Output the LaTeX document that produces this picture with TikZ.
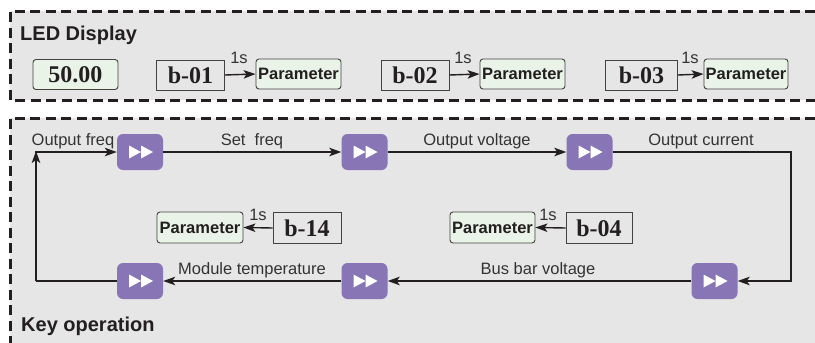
\documentclass[tikz,border=0pt]{standalone}
\usepackage{fontspec}
\setmainfont{Liberation Sans}
\newfontfamily\serifb{Liberation Serif}
\usetikzlibrary{arrows.meta}
\definecolor{bggray}{HTML}{E6E6E6}
\definecolor{lgreen}{HTML}{E9F3E8}
\definecolor{bpurple}{HTML}{8775B6}
\definecolor{ink}{HTML}{231F20}
\definecolor{labelc}{HTML}{333333}
\tikzset{
  dashline/.style={line width=3pt, dash pattern=on 10pt off 5.5pt, ink},
  parambox/.style={draw=ink!85, line width=0.9pt, fill=lgreen, rounded corners=3pt,
    minimum width=85pt, minimum height=30pt, inner sep=0pt,
    font=\fontsize{16.5}{18}\selectfont\bfseries, text=ink},
  valbox/.style={parambox, font=\fontsize{24}{26}\selectfont\serifb\bfseries},
  codebox/.style={draw=ink!85, line width=0.9pt, fill=bggray,
    minimum width=68pt, minimum height=30pt, inner sep=0pt,
    font=\fontsize{24}{26}\selectfont\serifb\bfseries, text=ink},
  ffbtn/.style={fill=bpurple, rounded corners=6pt, minimum width=46pt, minimum height=36pt,
    inner sep=0pt,
    path picture={
      \fill[white, sharp corners] ([xshift=-11pt,yshift=6.5pt]path picture bounding box.center) -- ++(12pt,-6.5pt) -- ++(-12pt,-6.5pt) -- cycle;
      \fill[white, sharp corners] ([xshift=1pt,yshift=6.5pt]path picture bounding box.center) -- ++(12pt,-6.5pt) -- ++(-12pt,-6.5pt) -- cycle;
    }},
  conn/.style={draw=ink, line width=1.4pt},
  arr/.style={conn, -{Stealth[length=12pt,width=8.5pt,inset=3pt]}},
  lbl/.style={font=\fontsize{16.5}{18}\selectfont, text=labelc, anchor=base, inner sep=0pt},
  title/.style={font=\fontsize{20}{22}\selectfont\bfseries, text=ink, anchor=base west, inner sep=0pt},
}
\begin{document}
\begin{tikzpicture}[x=1pt,y=-1pt]
\useasboundingbox (0,0) rectangle (815,343);
\fill[bggray] (10,11) rectangle (815,100);
\fill[bggray] (10,118) rectangle (815,343);
\draw[dashline] (815,11) -- (10,11) -- (10,100) -- (815,100);
\draw[dashline] (815,118) -- (10,118) -- (10,343);

% LED display panel
\node[title] (ledt) at (20,40) {LED Display};
\node[valbox] (v50) at (75.5,74.5) {50.00};
\node[codebox] (b01) at (190.5,75) {b-01};
\node[parambox] (p1) at (298.5,74) {Parameter};
\node[codebox] (b02) at (415,75) {b-02};
\node[parambox] (p2) at (522.5,74) {Parameter};
\node[codebox, minimum width=72pt] (b03) at (641.5,75) {b-03};
\node[parambox, minimum width=84pt] (p3) at (746,74) {Parameter};
\draw[arr] (b01.east) -- (p1.west);
\draw[arr] (b02.east) -- (p2.west);
\draw[arr] (b03.east) -- (p3.west);
\node[lbl] (s1t) at (239,63) {1s};
\node[lbl] (s2t) at (463,63) {1s};
\node[lbl] (s3t) at (690,63) {1s};

% Key operation panel
\node[title] (keyt) at (21,331) {Key operation};
\node[ffbtn] (B1) at (140,152) {};
\node[ffbtn] (B2) at (364.5,152) {};
\node[ffbtn] (B3) at (589.5,152) {};
\node[ffbtn] (B4) at (714.5,281) {};
\node[ffbtn] (B5) at (364.5,281) {};
\node[ffbtn] (B6) at (140,281) {};
\coordinate (TL) at (36,152);
\coordinate (BL) at (36,281);
\coordinate (TR) at (791,152);
\coordinate (BR) at (791,281);

\draw[conn] (B6.west) -- (BL);
\draw[arr] (BL) -- ([yshift=1pt]TL);
\draw[arr] ([xshift=-0.7pt]TL) -- (B1.west);
\draw[arr] (B1.east) -- (B2.west);
\draw[arr] (B2.east) -- (B3.west);
\draw[conn] (B3.east) -- (TR) -- (BR);
\draw[arr] ([xshift=0.7pt]BR) -- (B4.east);
\draw[arr] (B4.west) -- (B5.east);
\draw[arr] (B5.west) -- (B6.east);

\node[lbl] (lof) at (73,145) {Output freq};
\node[lbl] (lsf) at (252,145) {Set~ freq};
\node[lbl] (lov) at (477,145) {Output voltage};
\node[lbl] (loc) at (701,145) {Output current};
\node[lbl] (lbb) at (538,274) {Bus bar voltage};
\node[lbl] (lmt) at (252,274) {Module temperature};

\node[parambox, minimum width=86pt, minimum height=31pt] (p14) at (200,227.5) {Parameter};
\node[codebox, minimum height=31pt] (b14) at (307,228) {b-14};
\node[parambox, minimum width=85pt, minimum height=31pt] (p04) at (492.5,227.5) {Parameter};
\node[codebox, minimum width=66pt, minimum height=31pt] (b04) at (599,228) {b-04};
\draw[arr] (b14.west) -- (p14.east);
\draw[arr] (b04.west) -- (p04.east);
\node[lbl] (s14) at (258,220) {1s};
\node[lbl] (s04) at (548,220) {1s};
\end{tikzpicture}
\end{document}
